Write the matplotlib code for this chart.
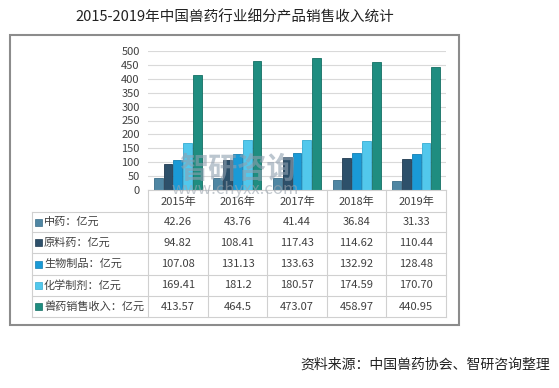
import matplotlib
matplotlib.use("Agg")
import matplotlib.pyplot as plt
from matplotlib.patches import Rectangle
from matplotlib.lines import Line2D
import numpy as np

plt.rcParams['font.family'] = ['Noto Sans CJK SC', 'DejaVu Sans']

years = ["2015年", "2016年", "2017年", "2018年", "2019年"]
series_names = ["中药：亿元", "原料药：亿元", "生物制品：亿元", "化学制剂：亿元", "兽药销售收入：亿元"]
zhongyao = [42.26, 43.76, 41.44, 36.84, 31.33]
yuanliao = [94.82, 108.41, 117.43, 114.62, 110.44]
shengwu = [107.08, 131.13, 133.63, 132.92, 128.48]
huaxue = [169.41, 181.2, 180.57, 174.59, 170.70]
shouyao = [413.57, 464.5, 473.07, 458.97, 440.95]
value_text = [
    ["42.26", "43.76", "41.44", "36.84", "31.33"],
    ["94.82", "108.41", "117.43", "114.62", "110.44"],
    ["107.08", "131.13", "133.63", "132.92", "128.48"],
    ["169.41", "181.2", "180.57", "174.59", "170.70"],
    ["413.57", "464.5", "473.07", "458.97", "440.95"],
]
series = [zhongyao, yuanliao, shengwu, huaxue, shouyao]
colors = ["#4f86a3", "#2d506a", "#1a9ad6", "#52c8ec", "#1f8d80"]
edge_colors = ["#3a6d88", "#1f3a50", "#137fb3", "#36acd2", "#146f64"]

W, H = 559, 388
fig = plt.figure(figsize=(W / 100, H / 100), dpi=100)

def fx(px):
    return px / W

def fy(py):
    return 1 - py / H

# outer frame
fig.patches.append(Rectangle((fx(10), fy(325)), fx(459) - fx(10), fy(35) - fy(325),
                             transform=fig.transFigure, fill=False, edgecolor="#8c8c8c", linewidth=1.5))

# axes
ax_l, ax_r, ax_t, ax_b = 148, 446, 51, 190
ax = fig.add_axes([fx(ax_l), fy(ax_b), fx(ax_r) - fx(ax_l), fy(ax_t) - fy(ax_b)])
x = np.arange(len(years))
bw = 0.165
for i, (s, c, ec) in enumerate(zip(series, colors, edge_colors)):
    ax.bar(x + (i - 2) * bw, s, width=bw * 0.9, color=c, edgecolor=ec, linewidth=0.6, zorder=3)
ax.set_xlim(-0.5, len(years) - 0.5)
ax.set_ylim(0, 500)
ax.set_yticks(np.arange(0, 501, 50))
ax.yaxis.grid(True, color="#d9d9d9", linewidth=0.8, zorder=0)
ax.set_xticks([])
for sp in ax.spines.values():
    sp.set_visible(False)
ax.tick_params(axis='y', length=0, labelsize=8, labelcolor="#404040", pad=6)
ax.patch.set_alpha(0)

# table
col_edges = [148, 208, 267, 327, 386, 446]
row_edges = [190, 212, 232, 253, 275, 296, 317]
label_left = 32
line_c = "#d0d0d0"
for xe in col_edges:
    fig.add_artist(Line2D([fx(xe), fx(xe)], [fy(190), fy(317)], color=line_c, linewidth=0.8))
fig.add_artist(Line2D([fx(label_left), fx(label_left)], [fy(212), fy(317)], color=line_c, linewidth=0.8))
for ye in row_edges:
    x0 = 148 if ye == 190 else label_left
    fig.add_artist(Line2D([fx(x0), fx(446)], [fy(ye), fy(ye)], color=line_c, linewidth=0.8))

for j, yr in enumerate(years):
    cx = (col_edges[j] + col_edges[j + 1]) / 2
    fig.text(fx(cx), fy((row_edges[0] + row_edges[1]) / 2 + 1), yr, ha="center", va="center",
             fontsize=8, color="#404040")

for i, name in enumerate(series_names):
    cy = (row_edges[i + 1] + row_edges[i + 2]) / 2
    fig.patches.append(Rectangle((fx(35), fy(cy + 3.5)), fx(7), 7 / H, transform=fig.transFigure,
                                 facecolor=colors[i], edgecolor=edge_colors[i], linewidth=0.5))
    fig.text(fx(44), fy(cy), name, ha="left", va="center", fontsize=8, color="#404040")
    for j in range(len(years)):
        cx = (col_edges[j] + col_edges[j + 1]) / 2
        fig.text(fx(cx), fy(cy), value_text[i][j], ha="center", va="center", fontsize=8, color="#404040")

# title
fig.text(fx(235), fy(18), "2015-2019年中国兽药行业细分产品销售收入统计", ha="center", va="center",
         fontsize=10.5, color="#222222")

# watermark
fig.text(fx(237), fy(169), "智研咨询", ha="center", va="center", fontsize=21, color="#8fa0b0",
         alpha=0.6, fontweight="bold")
fig.text(fx(235), fy(190), "www.chyxx.com", ha="center", va="center", fontsize=12, color="#9aa4ae",
         alpha=0.6)

# source
fig.text(fx(550), fy(365), "资料来源：中国兽药协会、智研咨询整理", ha="right", va="center",
         fontsize=10, color="#222222")

fig.savefig("out.png", dpi=100)
